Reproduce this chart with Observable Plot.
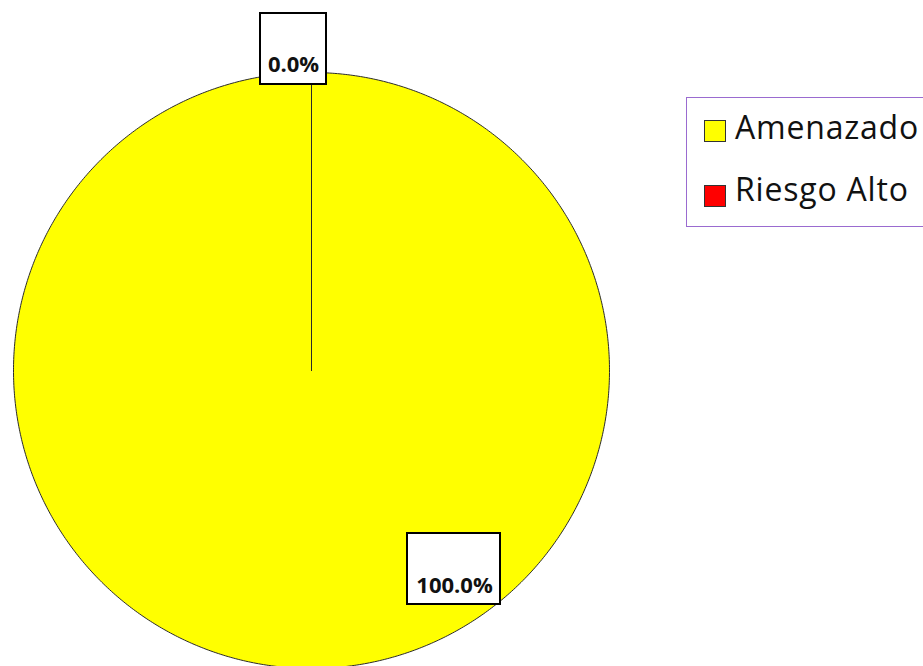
<!DOCTYPE html>
<html><head><meta charset="utf-8">
<script src="https://cdn.jsdelivr.net/npm/d3@7"></script>
<script src="https://cdn.jsdelivr.net/npm/@observablehq/plot@0.6"></script>
<style>
body{margin:0;background:#fff;overflow:hidden}
#wrap{position:relative;width:923px;height:666px;overflow:hidden}
#legend{position:absolute;left:686px;top:97px;width:260px;height:130px;border:1.5px solid #9a6bd0;box-sizing:border-box;font-family:"Open Sans",sans-serif;font-size:32px;color:#111}
.sw{position:absolute;left:17px;width:22px;height:22px;border:1.2px solid #333;box-sizing:border-box}
.tx{position:absolute;left:48px;line-height:32px;white-space:nowrap;letter-spacing:0.8px}
</style></head>
<body><div id="wrap"><div id="chart"></div><div id="legend"></div></div>
<script>
// ---- data ----
const categories = ["Amenazado", "Riesgo Alto"];
const values = [100, 0];
const colors = ["#FFFF00", "#FF0000"];
const labelTexts = ["100.0%", "0.0%"];

// ---- layout (pixels) ----
const W = 923, H = 666, cx = 311, cy = 370, R = 298;
const labelBoxes = [ // box x1,x2,y1,y2 and text center, in pixels
  {x1: 407, x2: 500, y1: 533, y2: 604, tx: 454, ty: 585.5},
  {x1: 260, x2: 326, y1: 13, y2: 84, tx: 293, ty: 64.5}
];
const ux = px => (px - cx) / R, uy = py => (cy - py) / R;

const arcs = d3.pie().sort(null).value(d => d)(values);
const slices = arcs.map((a, i) => {
  const n = Math.max(1, Math.ceil((a.endAngle - a.startAngle) / (2 * Math.PI) * 720));
  const pts = [{x: 0, y: 0}];
  for (let k = 0; k <= n; k++) {
    const t = a.startAngle + (a.endAngle - a.startAngle) * k / n;
    pts.push({x: Math.sin(t), y: Math.cos(t)});
  }
  pts.push({x: 0, y: 0});
  return {cat: categories[i], color: colors[i], pts};
});

const labelData = labelBoxes.map((b, i) => ({
  text: labelTexts[i], x1: ux(b.x1), x2: ux(b.x2), y1: uy(b.y2), y2: uy(b.y1), tx: ux(b.tx), ty: uy(b.ty)
}));

const chart = Plot.plot({
  width: W, height: H,
  margin: 0,
  x: {domain: [ux(0), ux(W)], axis: null},
  y: {domain: [uy(H), uy(0)], axis: null},
  style: {background: "white"},
  marks: [
    ...slices.map(s => Plot.line(s.pts, {x: "x", y: "y", fill: s.color, stroke: "#2b2b2b", strokeWidth: 1, strokeLinejoin: "miter"})),
    Plot.rect(labelData, {x1: "x1", x2: "x2", y1: "y1", y2: "y2", fill: "white", stroke: "black", strokeWidth: 2}),
    Plot.text(labelData, {x: "tx", y: "ty", text: "text", fontWeight: "bold", fontSize: 22, fontFamily: "Open Sans", fill: "#111"})
  ]
});
document.getElementById("chart").appendChild(chart);

// legend
const lg = document.getElementById("legend");
const swTops = [22, 87], txTops = [13, 75];
categories.forEach((c, i) => {
  const sw = document.createElement("div");
  sw.className = "sw"; sw.style.top = swTops[i] + "px"; sw.style.background = colors[i];
  lg.appendChild(sw);
  const tx = document.createElement("div");
  tx.className = "tx"; tx.textContent = c; tx.style.top = txTops[i] + "px";
  lg.appendChild(tx);
});
</script>
</body></html>
